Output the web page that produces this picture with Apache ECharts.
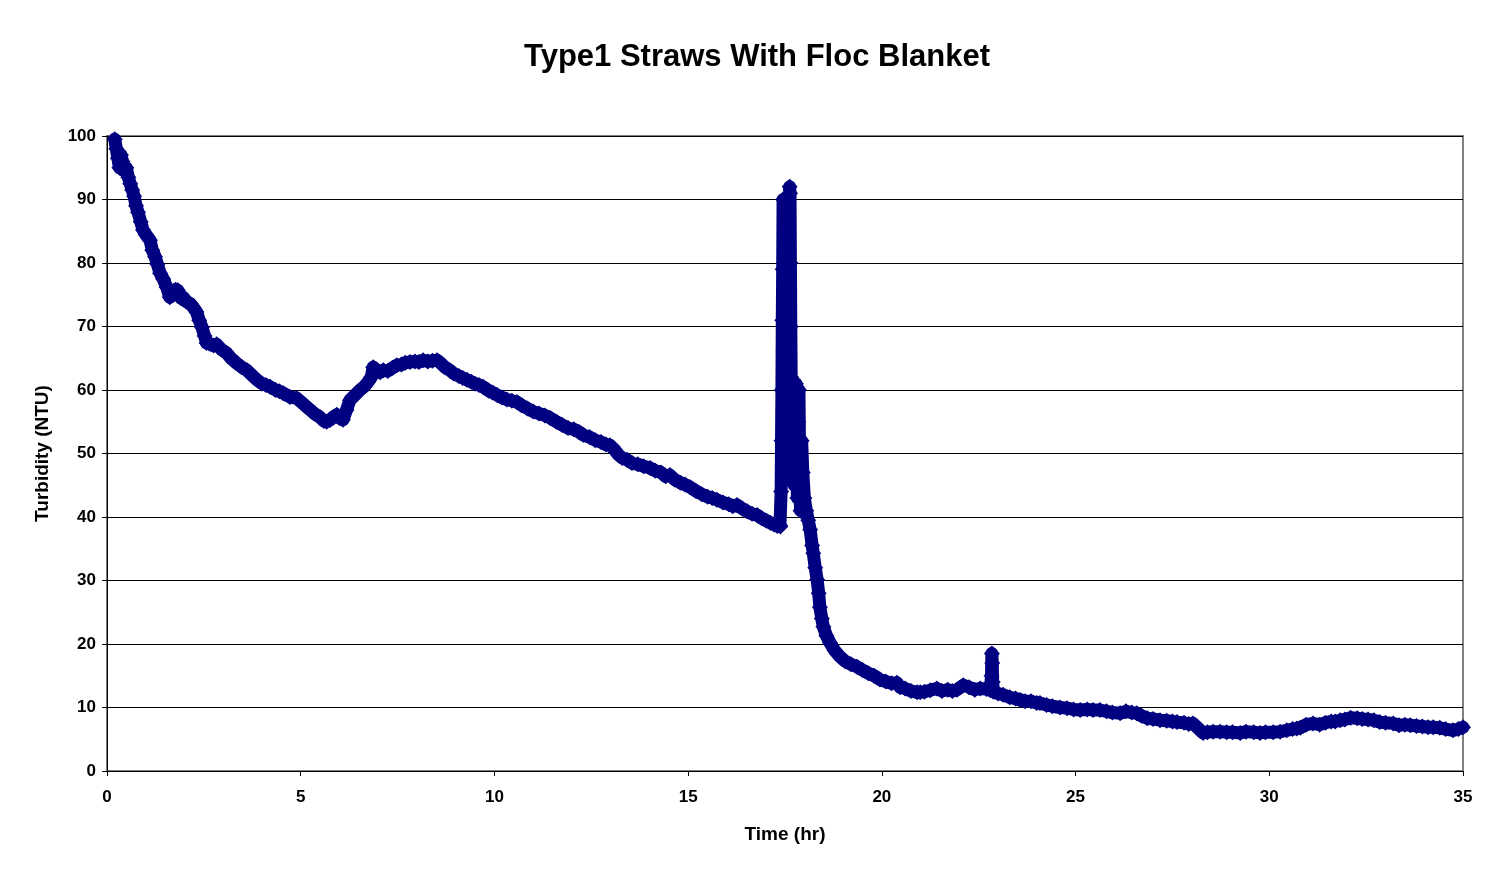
<!DOCTYPE html>
<html>
<head>
<meta charset="utf-8">
<script src="https://cdn.jsdelivr.net/npm/echarts@6/dist/echarts.min.js"></script>
<style>
html,body{margin:0;padding:0;background:#fff;}
#chart{width:1502px;height:885px;}
</style>
</head>
<body>
<div id="chart"></div>
<script>
var titleText = 'Type1 Straws With Floc Blanket';
var xAxisName = 'Time (hr)';
var yAxisName = 'Turbidity (NTU)';
var xTicks = [0, 5, 10, 15, 20, 25, 30, 35];
var yTicks = [0, 10, 20, 30, 40, 50, 60, 70, 80, 90, 100];

var times = [
0.20,0.24,0.28,0.32,0.36,0.40,0.45,0.50,0.55,0.60,0.65,0.70,0.75,0.80,0.87,0.93,1.00,1.06,1.11,1.17,1.24,1.30,1.37,1.45,1.54,1.62,1.70,1.77,1.83,1.90,1.97,2.05,2.15,2.23,2.31,2.38,2.45,2.52,2.57,2.65,2.75,2.83,2.95,3.09,3.20,3.35,3.48,3.61,3.75,3.87,4.00,4.10,4.21,4.35,4.45,4.55,4.72,4.90,5.03,5.16,5.24,5.35,5.50,5.60,5.67,5.76,5.85,5.93,6.00,6.09,6.18,6.27,6.40,6.53,6.65,6.74,6.82,6.87,6.95,7.05,7.13,7.25,7.37,7.48,7.60,7.70,7.82,7.95,8.05,8.16,8.28,8.40,8.52,8.62,8.72,8.85,8.95,9.08,9.18,9.29,9.40,9.50,9.60,9.71,9.85,9.95,10.07,10.20,10.32,10.45,10.58,10.70,10.85,11.00,11.15,11.30,11.44,11.60,11.75,11.90,12.05,12.18,12.30,12.45,12.60,12.75,12.88,12.98,13.10,13.20,13.30,13.42,13.55,13.70,13.85,14.02,14.15,14.30,14.42,14.53,14.65,14.80,14.92,15.05,15.20,15.35,15.50,15.62,15.74,15.90,16.05,16.15,16.26,16.40,16.52,16.65,16.78,16.90,17.02,17.12,17.22,17.30,17.37,
17.38,17.40,17.41,17.42,17.43,17.44,17.45,17.46,17.47,17.48,17.50,17.52,17.54,17.56,17.58,17.60,17.62,17.63,17.64,17.65,17.66,17.67,17.68,17.70,17.72,17.74,17.76,17.78,17.80,17.82,17.84,17.86,17.88,17.90,17.93,17.96,18.00,18.05,18.10,
18.15,18.20,18.23,18.28,18.33,18.37,18.40,18.45,18.49,18.57,18.66,18.78,18.92,19.05,19.20,19.36,19.50,19.65,19.80,19.95,20.10,20.25,20.39,20.47,20.60,20.75,20.91,20.99,21.10,21.25,21.42,21.55,21.70,21.82,21.94,22.10,22.25,22.40,22.54,22.70,22.80,22.83,22.84,22.85,22.86,22.88,23.00,23.13,23.30,23.45,23.57,23.70,23.85,24.00,24.08,24.25,24.40,24.60,24.78,24.95,25.12,25.30,25.45,25.63,25.80,25.95,26.15,26.30,26.45,26.58,26.70,26.85,27.00,27.18,27.35,27.50,27.62,27.80,27.92,28.03,28.15,28.29,28.40,28.55,28.73,28.90,29.05,29.25,29.40,29.60,29.76,29.90,30.10,30.28,30.45,30.60,30.71,30.80,30.95,31.13,31.30,31.45,31.60,31.70,31.83,31.95,32.10,32.27,32.40,32.55,32.70,32.85,33.00,33.20,33.35,33.50,33.64,33.80,33.95,34.10,34.23,34.40,34.55,34.74,34.88,35.00
];

var turbidity = [
99.5,98,96.5,95,97,96,94.5,95,93.5,92.5,91.5,90.5,89,88,86.5,85.2,84.5,84,83.6,82,81,79.8,78.4,77.5,76.2,74.6,75,75.8,75.7,74.5,74.6,73.9,73.6,73,72.3,71,69.9,68.5,67.4,67.3,67,67.2,66.4,65.8,65,64.2,63.6,63.1,62.3,61.6,61,60.8,60.5,60,59.8,59.5,58.9,58.7,58,57.3,56.9,56.3,55.7,55.1,55,55.3,55.8,56.1,55.6,55.3,56.8,58.4,59.2,60,60.6,61.3,62,63.6,63.2,62.8,63.1,63,63.5,63.9,64,64.3,64.4,64.5,64.4,64.7,64.5,64.6,64.7,64.2,63.6,63.1,62.6,62.2,61.9,61.6,61.3,61,60.8,60.5,59.9,59.6,59.2,58.8,58.5,58.3,58.1,57.6,57.1,56.6,56.3,56,55.6,55,54.5,54,53.8,53.4,52.9,52.6,52.1,51.8,51.4,51.3,50.6,49.8,49.3,49,48.5,48.3,48,47.7,47.3,47,46.4,46.6,45.9,45.4,45.1,44.7,44.1,43.6,43.2,43,42.7,42.3,42,41.7,41.9,41.3,40.9,40.5,40.3,39.8,39.4,39.1,38.8,38.6,38.7,
38.5,44,52,60,71,79,90,66,55,46,58,67,83,88,85,76,92,91,80,70,62,55,48,60,52,45,58,61,50,43,55,60,48,41,52,47,43,41,39.5,
38,35.5,34.3,32,30.1,28,25.8,24,22.7,21.3,20.2,19,18,17.3,16.8,16.4,15.9,15.4,15,14.4,14.1,13.8,13.9,13.2,13,12.6,12.4,12.4,12.5,12.7,13,12.6,12.8,12.6,12.8,13.5,13.2,12.8,13,12.9,12.7,15,18.5,17,14,12.5,12.2,12,11.6,11.4,11.2,11,11,10.7,10.7,10.4,10.2,10,9.9,9.7,9.6,9.7,9.6,9.6,9.4,9.2,9.1,9.4,9.2,9.1,8.7,8.3,8.2,8,7.9,7.8,7.7,7.6,7.4,7.5,6.8,6,6.1,6.2,6.2,6.1,6.1,6,6.2,6.1,6,6.1,6.1,6.2,6.4,6.6,6.7,6.8,7.3,7.5,7.3,7.6,7.8,7.8,8,8.1,8.4,8.3,8.2,8.1,8,7.7,7.6,7.5,7.2,7.3,7.2,7.1,7,6.9,6.9,6.8,6.6,6.4,6.6,6.9
];

var seriesData = times.map(function (t, i) { return [t, turbidity[i]]; });

var font = '"Liberation Sans", Arial, sans-serif';
var chart = echarts.init(document.getElementById('chart'));
chart.setOption({
  animation: false,
  backgroundColor: '#ffffff',
  title: {
    text: titleText,
    left: 752, top: 37, textAlign: 'center',
    textStyle: { fontFamily: font, fontWeight: 'bold', fontSize: 31, color: '#000' }
  },
  grid: {
    left: 107, right: 39, top: 136, bottom: 114,
    show: true, borderColor: '#808080', borderWidth: 2, backgroundColor: '#fff'
  },
  xAxis: {
    type: 'value', min: xTicks[0], max: xTicks[xTicks.length - 1], interval: 5,
    name: xAxisName, nameLocation: 'middle', nameGap: 54,
    nameTextStyle: { fontFamily: font, fontWeight: 'bold', fontSize: 19, color: '#000' },
    axisLine: { show: true, onZero: false, lineStyle: { color: '#000', width: 1 } },
    axisTick: { show: true, length: 5, lineStyle: { color: '#000' } },
    axisLabel: { margin: 18, fontFamily: font, fontWeight: 'bold', fontSize: 17, color: '#000' },
    splitLine: { show: false }
  },
  yAxis: {
    type: 'value', min: yTicks[0], max: yTicks[yTicks.length - 1], interval: 10,
    name: yAxisName, nameLocation: 'middle', nameGap: 55, nameRotate: 90,
    nameTextStyle: { fontFamily: font, fontWeight: 'bold', fontSize: 19, color: '#000' },
    axisLine: { show: true, lineStyle: { color: '#000', width: 1 } },
    axisTick: { show: true, length: 5, lineStyle: { color: '#000' } },
    axisLabel: { margin: 11, fontFamily: font, fontWeight: 'bold', fontSize: 17, color: '#000' },
    splitLine: { show: true, lineStyle: { color: '#000', width: 1 } }
  },
  series: [{
    type: 'line',
    data: seriesData,
    symbol: 'diamond',
    symbolSize: 16,
    showAllSymbol: true,
    itemStyle: { color: '#000080', borderWidth: 0 },
    lineStyle: { color: '#000080', width: 13, join: 'round', cap: 'round' },
    emphasis: { disabled: true },
    z: 3
  }]
});
</script>
</body>
</html>
